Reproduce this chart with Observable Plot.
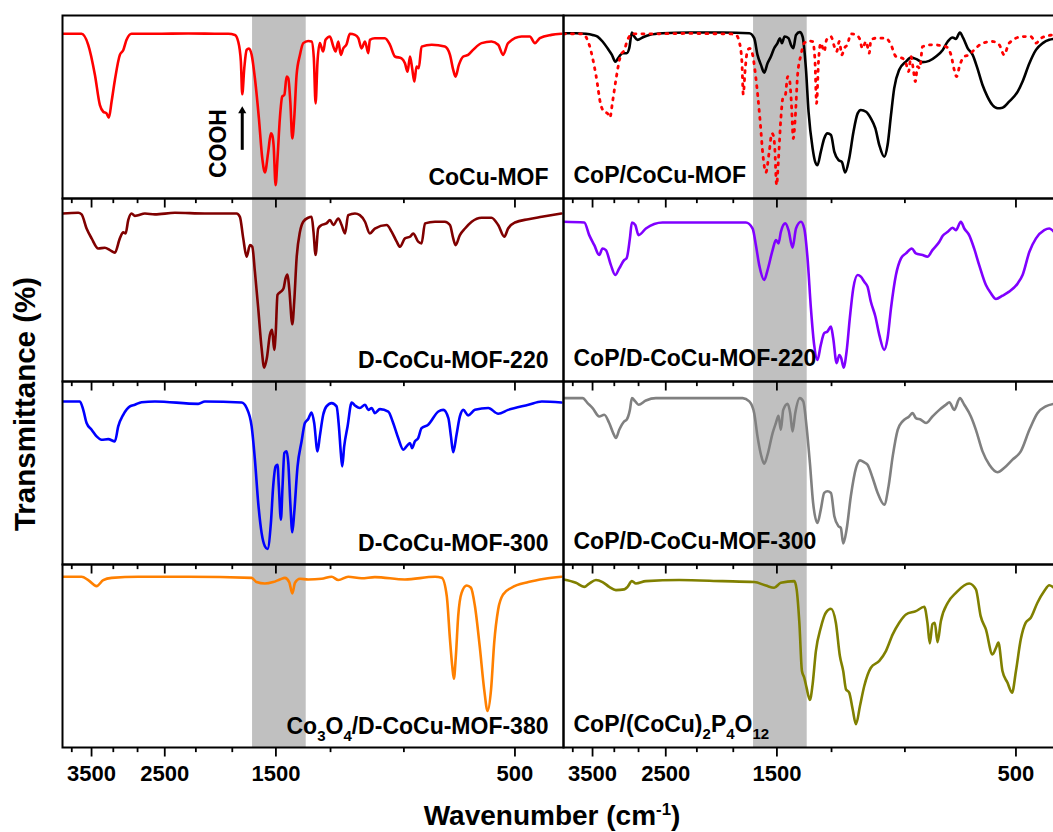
<!DOCTYPE html>
<html><head><meta charset="utf-8">
<script src="https://cdn.jsdelivr.net/npm/d3@7"></script>
<script src="https://cdn.jsdelivr.net/npm/@observablehq/plot@0.6"></script>
<style>
html,body{margin:0;padding:0;overflow:hidden;background:#fff}
#wrap{position:relative;width:1053px;height:832px;overflow:hidden;font-family:"Liberation Sans",Arial,sans-serif;background:#fff}
#chart svg{max-width:none !important;width:1075px !important;height:832px !important;display:block}
#ytitle{position:absolute;left:25px;top:404px;transform:translate(-50%,-50%) rotate(-90deg);font-weight:bold;font-size:29.5px;white-space:nowrap;line-height:1}
#xtitle{position:absolute;left:552px;top:816px;transform:translate(-50%,-50%);font-weight:bold;font-size:28px;white-space:nowrap;line-height:1}
#xtitle sup{font-size:60%;line-height:0}
</style></head>
<body>
<div id="wrap">
  <div id="chart"></div>
  <div id="ytitle">Transmittance (%)</div>
  <div id="xtitle">Wavenumber (cm<sup>-1</sup>)</div>
</div>
<script>
// ---- data: [wavenumber (cm-1), transmittance (a.u., 0-100 per panel)] ----
const cocuMOF = [[4000,90],[3664,90],[3554,84],[3446,67.5],[3368,51],[3317,47.4],[3267,46.5],[3232,44.2],[3192,53],[3144,64.8],[3073,78.5],[3026,81],[2980,86.7],[2912,90],[2616,90],[2244,90.2],[1925,90],[1867,90],[1811,89.4],[1784,85.8],[1762,74.8],[1751,57],[1735,71],[1716,81.2],[1698,82],[1677,78.5],[1652,65.7],[1622,43.8],[1597,21.9],[1578,14.2],[1554,25.5],[1535,35.6],[1526,34.7],[1516,29.2],[1502,7.3],[1489,21.9],[1473,43.8],[1457,55.7],[1443,56.6],[1428,66.6],[1417,65.7],[1404,53],[1391,32.8],[1379,43.8],[1364,67.5],[1343,78.5],[1323,84.9],[1293,86.1],[1273,85.8],[1260,76.6],[1250,52],[1239,74.8],[1226,84.9],[1207,80.3],[1194,86.7],[1170,88.5],[1152,83],[1140,80.3],[1126,85.8],[1113,78.5],[1101,82],[1084,84.3],[1068,90],[1043,89.4],[1027,87.6],[1012,82],[996,85.8],[981,79.4],[974,86.7],[952,87.6],[909,87.6],[888,84],[868,77.6],[842,76.6],[829,73.9],[819,69.3],[810,77.6],[802,71.2],[794,63.9],[786,72.1],[778,71.2],[768,83],[733,84],[690,83],[674,78.5],[664,70.3],[657,66.6],[647,73],[634,77.6],[620,78.5],[606,81.2],[583,84.9],[557,85.8],[540,84],[528,78.5],[516,84.9],[485,88.5],[467,88.5],[456,84.9],[446,87.6],[423,89.4],[404,90]];

const dCocuMOF220 = [[4000,91.8],[3721,92.2],[3664,91.3],[3581,83.6],[3499,78.2],[3394,72.7],[3292,73.1],[3217,71.8],[3144,70.4],[3073,78.2],[3026,81.5],[2993,80.9],[2957,88.2],[2912,91.8],[2868,90.5],[2825,90.9],[2739,91.8],[2616,91.3],[2386,92.2],[2079,91.8],[1797,91.8],[1770,90],[1743,78.2],[1716,68.2],[1690,74.5],[1672,73.6],[1652,60],[1627,40],[1602,18.2],[1583,7.6],[1564,12.7],[1542,25.5],[1526,28.2],[1512,17.3],[1502,25.5],[1489,47.3],[1466,49.1],[1448,50.9],[1435,56.4],[1422,58.5],[1411,50.9],[1391,31.3],[1379,43.6],[1364,67.3],[1343,81.8],[1323,87.3],[1293,89.5],[1273,90],[1262,81.8],[1250,69.1],[1235,83.6],[1216,85.5],[1189,86.4],[1170,88.2],[1152,85.5],[1126,89.1],[1109,85.5],[1092,80.9],[1076,90.9],[1043,91.8],[1020,90.9],[996,87.3],[974,80.9],[952,83.6],[902,85.5],[881,81.8],[861,76.4],[848,73.6],[829,78.2],[810,79.1],[798,80.9],[780,76.4],[768,75.5],[756,86.4],[722,87.3],[690,87.3],[674,85.5],[664,78.2],[657,74.5],[644,80],[629,83.6],[610,87.3],[583,89.5],[557,89.5],[540,85.5],[525,79.1],[516,83.6],[500,86.9],[470,88.7],[442,90],[404,91.8]];

const dCocuMOF300 = [[4000,89.1],[3693,89.1],[3636,84.5],[3581,77.3],[3499,73.6],[3420,70],[3343,68.2],[3242,68.5],[3144,67.3],[3096,75.5],[3026,81.8],[2934,86.4],[2868,87.3],[2781,88.7],[2616,89.1],[2144,87.8],[2079,89.1],[1756,88.5],[1716,85.5],[1677,75.5],[1652,57.3],[1627,33.6],[1602,17.3],[1578,10],[1559,8.5],[1535,22.7],[1519,42.7],[1502,53.6],[1489,54.5],[1480,42.7],[1466,24.5],[1455,42.7],[1443,60.9],[1428,61.8],[1417,55.5],[1404,33.6],[1391,17.6],[1379,28.2],[1358,53.6],[1333,67.3],[1313,77.3],[1293,79.5],[1273,83.1],[1258,77.3],[1239,61.8],[1226,70],[1207,81.8],[1189,86.4],[1161,88.2],[1135,86.4],[1123,75.5],[1113,60.9],[1106,53.6],[1096,64.5],[1079,75.5],[1059,88.5],[1043,86.9],[1020,85.5],[996,87.3],[981,84.5],[966,85.5],[952,82.7],[930,84.9],[895,83.6],[875,77.3],[855,69.1],[835,62.7],[823,64.5],[810,66.4],[802,63.6],[792,67.3],[780,69.1],[768,74.5],[745,76.4],[711,83.6],[695,84.5],[679,80],[671,70],[664,61.3],[654,70.9],[644,80.9],[634,84.5],[620,81.5],[601,84.5],[565,85.5],[540,82.4],[516,84.5],[470,87.3],[442,89.1],[404,88.5]];

const co3o4MOF380 = [[4000,93.3],[3664,93.3],[3554,91.5],[3420,88.2],[3317,91.5],[3192,92.7],[2825,93.3],[2244,93.3],[1677,92.7],[1640,90.4],[1578,89.6],[1519,90.4],[1473,91.8],[1439,92.7],[1411,90.4],[1391,84.2],[1374,90],[1343,92.2],[1293,91.8],[1216,92.2],[1161,93.3],[1126,91.5],[1076,93.3],[1012,92.5],[952,93.1],[829,91.8],[722,93.3],[700,92.7],[684,82.7],[674,59.1],[667,44.5],[662,37.6],[656,50],[649,71.8],[639,84.5],[624,88.5],[612,87.3],[601,77.3],[588,55.5],[576,31.8],[567,20],[558,31.8],[550,57.3],[540,75.5],[528,83.6],[508,87.3],[470,90.4],[436,92.2],[404,93.3]];

const copCocuMOF = [[4000,90.3],[3778,90.3],[3609,90],[3499,89.4],[3420,88.5],[3343,85.8],[3267,82.1],[3202,78.5],[3153,74.8],[3096,77.6],[3049,79.4],[2993,79.4],[2957,82.1],[2921,90.7],[2890,88.5],[2846,86.7],[2781,88],[2697,89.4],[2537,90.3],[2244,90.7],[1925,90.7],[1703,90.3],[1665,87.6],[1640,78.5],[1614,73],[1590,68.8],[1566,73.9],[1542,77.6],[1519,82.1],[1496,84.9],[1480,87.6],[1466,84.9],[1448,88.5],[1422,87.6],[1406,83.9],[1391,82.1],[1374,89.4],[1350,90.9],[1333,88.5],[1313,71.2],[1297,47.4],[1273,27.4],[1258,20],[1245,18.2],[1226,25.5],[1207,32.8],[1189,35.6],[1170,34.7],[1152,25.5],[1130,21],[1113,20],[1096,14.2],[1076,21.9],[1055,36.5],[1035,46.5],[1020,48.4],[996,47.4],[974,43.8],[954,38.3],[937,29.2],[916,22.8],[902,29.2],[888,45.6],[875,60.2],[855,70.3],[829,74.8],[810,77],[792,76.3],[768,74.5],[745,75.2],[722,77.6],[700,81.2],[684,85.8],[669,88],[659,87.2],[647,90.7],[637,87.6],[624,82.1],[610,78.5],[597,71.2],[583,62],[570,55.7],[557,51.1],[544,49.3],[532,49.6],[516,52.9],[496,58.4],[485,63.9],[470,73.9],[456,81.2],[442,84.9],[429,86.7],[420,87.2]];

const copDCocuMOF220 = [[4000,87.3],[3636,86.9],[3554,80],[3472,74.5],[3394,69.1],[3343,72.7],[3292,71.8],[3217,63.6],[3153,58.2],[3096,61.8],[3026,66.4],[2993,67.3],[2948,78.2],[2921,86.9],[2876,85.5],[2833,80],[2739,83.6],[2537,86.9],[2244,86.9],[1730,86.9],[1677,83.6],[1652,74.5],[1627,63.6],[1590,55.5],[1566,60.9],[1530,71.8],[1507,77.3],[1489,75.5],[1473,81.8],[1443,86.4],[1422,82.7],[1396,73.1],[1374,83.6],[1343,87.3],[1323,83.6],[1303,67.3],[1283,40],[1264,20],[1245,11.8],[1226,20],[1207,26.4],[1189,27.3],[1170,30],[1158,23.6],[1140,10],[1126,14.5],[1116,12.7],[1104,7.6],[1089,16.4],[1073,34.5],[1056,50.9],[1035,58.2],[1020,57.3],[1004,54.5],[989,51.8],[974,43.6],[954,35.5],[937,25.5],[916,17.3],[902,23.6],[888,40],[868,58.2],[848,67.3],[829,70],[807,72.7],[792,70],[768,69.1],[751,68.2],[734,71.8],[711,76.4],[700,79.6],[684,81.8],[669,84],[659,82.7],[644,87.3],[634,83.6],[620,80],[606,72.7],[592,63.6],[574,52.7],[561,48.2],[548,45.1],[532,46.9],[516,49.1],[496,53.6],[485,58.2],[470,70.9],[456,78.2],[439,82.7],[429,83.6],[420,81.8]];

const copDCocuMOF300 = [[4000,90.9],[3664,90.9],[3581,88.2],[3499,85.5],[3394,80.9],[3317,81.8],[3242,77.3],[3183,71.8],[3144,69.1],[3096,73.6],[3026,78.2],[2993,79.1],[2948,84.5],[2921,90.9],[2876,89.1],[2833,87.3],[2739,89.6],[2616,90.9],[1756,90.9],[1703,89.1],[1665,82.7],[1640,70],[1614,60],[1590,55.1],[1566,60],[1530,71.8],[1507,77.3],[1489,81.3],[1473,73.6],[1457,84.5],[1428,87.8],[1411,82.7],[1396,72.7],[1379,82.7],[1350,90.9],[1329,89.1],[1309,75.5],[1289,55.5],[1270,33.6],[1245,22.7],[1226,30],[1207,39.1],[1189,40],[1170,39.1],[1152,26.4],[1130,20.9],[1118,20],[1106,11.5],[1089,19.1],[1068,37.3],[1043,52.7],[1024,56.9],[1004,55.8],[989,54.5],[966,47.3],[944,39.1],[916,32.7],[898,42.7],[881,59.1],[861,73.6],[842,78.2],[817,80.9],[804,82.7],[792,80],[774,79.1],[756,77.3],[734,80.9],[711,84.5],[690,87.3],[679,88.7],[664,84.5],[647,90.9],[634,87.3],[615,80.9],[601,73.6],[583,61.8],[565,54.5],[544,50.4],[528,52.7],[508,57.3],[489,61.8],[470,73.6],[453,82.7],[436,86.4],[420,87.8]];

const copP4O12 = [[4000,91.8],[3778,90],[3636,87.8],[3554,89.6],[3446,91.5],[3343,90.4],[3242,87.8],[3144,86],[3026,86.4],[2980,87.8],[2921,90.9],[2868,89.6],[2739,90.9],[2350,91.5],[1925,90.9],[1665,90.4],[1578,88.5],[1519,87.3],[1473,90],[1385,90.9],[1370,86.4],[1353,68.2],[1337,41.8],[1323,38.2],[1309,32.7],[1289,26],[1273,34.5],[1254,52.7],[1226,65.5],[1198,73.6],[1170,75.8],[1144,68.2],[1123,50],[1106,41.8],[1092,31.8],[1076,30],[1059,20.9],[1043,12.7],[1024,22.7],[1004,33.6],[974,43.6],[937,47.3],[909,52.7],[881,61.8],[855,68.2],[829,72.7],[792,74.5],[762,76.9],[751,68.2],[743,56.9],[734,67.3],[726,68.2],[717,57.6],[706,69.1],[684,79.1],[659,84.5],[620,89.6],[601,86.4],[588,71.8],[574,64.5],[557,50.9],[548,54.5],[542,57.3],[532,41.8],[520,35.5],[509,30],[500,41.8],[489,59.1],[478,68.2],[467,70.9],[453,79.1],[439,85.5],[429,88.7],[420,87.3]];

// panel names, column and row of each series
const seriesNames = ["CoCu-MOF","D-CoCu-MOF-220","D-CoCu-MOF-300","Co3O4/D-CoCu-MOF-380",
                     "CoP/CoCu-MOF","CoP/D-CoCu-MOF-220","CoP/D-CoCu-MOF-300","CoP/(CoCu)2P4O12"];
const seriesData = [cocuMOF, dCocuMOF220, dCocuMOF300, co3o4MOF380,
                    copCocuMOF, copDCocuMOF220, copDCocuMOF300, copP4O12];
const seriesCol = ["L","L","L","L","R","R","R","R"];
const seriesRow = [1,2,3,4,1,2,3,4];
const seriesColor = ["#ff0000","#800000","#0000ff","#ff8000","#000000","#8000ff","#808080","#808000"];

const majorTicks = [3500, 2500, 1500, 500];
const minorTicks = [3833, 3167, 2833, 2167, 1833, 1167, 833];
const bandRange = [{from: 1670, to: 1305}];
const coohNote = [{w: 1949, t: 30, label: "COOH", col: "L", row: 1}];
const coohArrow = [{w: 1751, from: 26.6, to: 48, tip: 47.9, col: "L", row: 1}];

// ---- build tables ----
const series = seriesNames.map((name, i) => ({
  name, col: seriesCol[i], row: seriesRow[i], color: seriesColor[i],
  rows: seriesData[i].map(([w, t]) => ({w, t, col: seriesCol[i], row: seriesRow[i]}))
}));
const overlay = cocuMOF.map(([w, t]) => ({w, t, col: "R", row: 1}));
const labelsL = series.filter(s => s.col === "L").map(s => ({label: s.name, col: s.col, row: s.row}));
const labelsR = series.filter(s => s.col === "R").map(s => ({label: s.name, col: s.col, row: s.row}));

const font = '"Liberation Sans", Arial, sans-serif';
const plot = Plot.plot({
  width: 1075, height: 832,
  marginTop: 14, marginBottom: 85, marginLeft: 62, marginRight: 11,
  style: {fontFamily: font, background: "white", overflow: "visible", color: "black", maxWidth: "none"},
  x: {type: "log", domain: [4000, 400], axis: null},
  y: {domain: [0, 100], axis: null},
  fx: {domain: ["L", "R"], padding: 0, axis: null},
  fy: {domain: [1, 2, 3, 4], padding: 0, axis: null},
  marks: [
    Plot.rect(bandRange, {x1: "from", x2: "to", y1: 0, y2: 100, fill: "#c0c0c0"}),
    ...series.map(s => Plot.line(s.rows, {x: "w", y: "t", fx: "col", fy: "row", stroke: s.color, strokeWidth: 2.6, curve: "monotone-x", clip: true})),
    Plot.line(overlay, {x: "w", y: "t", fx: "col", fy: "row", stroke: "#ff0000", strokeWidth: 2.8, strokeDasharray: "2,6", curve: "monotone-x", clip: true}),
    Plot.frame({stroke: "black", strokeWidth: 2}),
    Plot.ruleX(majorTicks, {x: d => d, y1: 0, y2: -5.2, stroke: "black", strokeWidth: 1.8}),
    Plot.ruleX(minorTicks, {x: d => d, y1: 0, y2: -2.8, stroke: "black", strokeWidth: 1.8}),
    Plot.axisX(majorTicks, {tickSize: 0, tickPadding: 18, tickFormat: "d", fontSize: 22, fontWeight: "bold", label: null}),
    Plot.text(labelsL, {fx: "col", fy: "row", text: "label", frameAnchor: "bottom-right", textAnchor: "end", lineAnchor: "bottom", dx: -15, dy: -14, fontSize: 23, fontWeight: "bold", fill: "black"}),
    Plot.text(labelsR, {fx: "col", fy: "row", text: "label", frameAnchor: "bottom-left", textAnchor: "start", lineAnchor: "bottom", dx: 10, dy: -16, fontSize: 23, fontWeight: "bold", fill: "black"}),
    Plot.text(coohNote, {x: "w", y: "t", fx: "col", fy: "row", text: "label", rotate: -90, fontSize: 23, fontWeight: "bold", fill: "black"}),
    Plot.link(coohArrow, {x1: "w", x2: "w", y1: "from", y2: "to", fx: "col", fy: "row", stroke: "black", strokeWidth: 3}),
    Plot.dot(coohArrow, {x: "w", y: "tip", fx: "col", fy: "row", symbol: "triangle2", r: 3.9, fill: "black", stroke: "none"})
  ]
});
document.getElementById("chart").appendChild(plot);

// chemical-formula subscripts (digits following a letter or ")")
plot.querySelectorAll("text").forEach(t => {
  const s = t.textContent;
  if (!/[A-Za-z)]\d/.test(s) || t.querySelector("tspan")) return;
  const pieces = [];
  const re = /\d+/g; let m, last = 0;
  while ((m = re.exec(s))) {
    const prev = s[m.index - 1];
    if (prev && /[A-Za-z)]/.test(prev)) {
      pieces.push({txt: s.slice(last, m.index), sub: false});
      pieces.push({txt: m[0], sub: true});
      last = m.index + m[0].length;
    }
  }
  pieces.push({txt: s.slice(last), sub: false});
  t.textContent = "";
  let lowered = false;
  const ns = "http://www.w3.org/2000/svg";
  pieces.forEach(p => {
    if (!p.txt) return;
    const ts = document.createElementNS(ns, "tspan");
    ts.textContent = p.txt;
    if (p.sub && !lowered) { ts.setAttribute("dy", "7"); lowered = true; }
    else if (!p.sub && lowered) { ts.setAttribute("dy", "-7"); lowered = false; }
    if (p.sub) ts.setAttribute("font-size", "15");
    t.appendChild(ts);
  });
});
</script>
</body></html>
